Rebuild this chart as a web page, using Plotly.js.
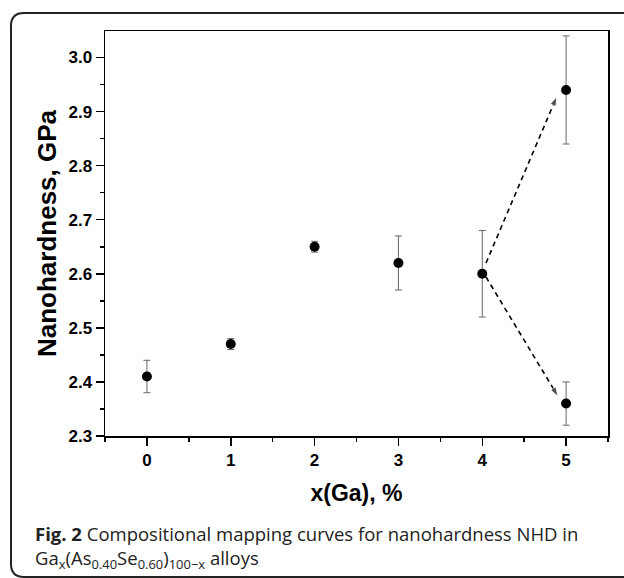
<!DOCTYPE html>
<html>
<head>
<meta charset="utf-8">
<script src="https://cdn.plot.ly/plotly-3.0.1.min.js"></script>
<style>
  html, body { margin: 0; padding: 0; background: #fff; }
  #chart { width: 624px; height: 578px; }
</style>
</head>
<body>
<div id="chart"></div>
<script>
// Data
const gaContent = [0, 1, 2, 3, 4, 5, 5];
const nanohardness = [2.41, 2.47, 2.65, 2.62, 2.60, 2.94, 2.36];
const errPlus = [0.03, 0.01, 0.01, 0.05, 0.08, 0.10, 0.04];
const errMinus = [0.03, 0.01, 0.01, 0.05, 0.08, 0.10, 0.04];

// dashed arrows: from x=4 point towards the two x=5 points
const arrowUpX = [4.045, 4.89];
const arrowUpY = [2.62, 2.928];
const arrowDownX = [4.045, 4.905];
const arrowDownY = [2.594, 2.373];

const xTickVals = [0, 1, 2, 3, 4, 5];
const xTickText = ['0', '1', '2', '3', '4', '5'];
const yTickVals = [2.3, 2.4, 2.5, 2.6, 2.7, 2.8, 2.9, 3.0];
const yTickText = ['2.3', '2.4', '2.5', '2.6', '2.7', '2.8', '2.9', '3.0'];

const W = 624, H = 578;
const M = {l: 105, r: 16, t: 31, b: 142};
const pw = W - M.l - M.r, ph = H - M.t - M.b;
const px = v => ((v - M.l) / pw).toFixed(5);
const py = v => ((H - M.b - v) / ph).toFixed(5);

// rounded frame around the whole figure (pixel positions -> paper coords)
const fL = 11, fT = 13, fB = 577, fR = 720, rad = 13;
const framePath =
  'M ' + px(fR) + ',' + py(fT) +
  ' L ' + px(fL + rad) + ',' + py(fT) +
  ' Q ' + px(fL) + ',' + py(fT) + ' ' + px(fL) + ',' + py(fT + rad) +
  ' L ' + px(fL) + ',' + py(fB - rad) +
  ' Q ' + px(fL) + ',' + py(fB) + ' ' + px(fL + rad) + ',' + py(fB) +
  ' L ' + px(fR) + ',' + py(fB);

const arrowTrace = (xs, ys) => ({
  x: xs, y: ys,
  type: 'scatter',
  mode: 'lines+markers',
  line: {color: '#000', width: 1.6, dash: '5px,4px'},
  marker: {
    symbol: ['circle', 'arrow'],
    size: [0, 10],
    color: '#000',
    angleref: 'previous'
  },
  hoverinfo: 'skip',
  showlegend: false
});

const traces = [
  arrowTrace(arrowUpX, arrowUpY),
  arrowTrace(arrowDownX, arrowDownY),
  {
    x: gaContent,
    y: nanohardness,
    type: 'scatter',
    mode: 'markers',
    marker: {color: '#000', size: 10, symbol: 'circle'},
    error_y: {
      type: 'data',
      symmetric: false,
      array: errPlus,
      arrayminus: errMinus,
      color: '#666',
      thickness: 1,
      width: 3.5
    },
    showlegend: false
  }
];

const axisFont = {family: 'Arial, "Liberation Sans", sans-serif', size: 17, color: '#000', weight: 'bold'};

const layout = {
  width: W, height: H,
  margin: M,
  paper_bgcolor: '#fff',
  plot_bgcolor: '#fff',
  showlegend: false,
  xaxis: {
    range: [-0.5, 5.5],
    tickvals: xTickVals,
    ticktext: xTickText,
    ticks: 'outside',
    ticklen: 8,
    tickwidth: 1.5,
    tickcolor: '#000',
    minor: {dtick: 0.5, tick0: 0, ticks: 'outside', ticklen: 4, tickwidth: 1.5, tickcolor: '#000', showgrid: false},
    showline: true,
    linecolor: '#000',
    linewidth: 1.5,
    mirror: true,
    showgrid: false,
    zeroline: false,
    tickfont: axisFont,
    title: {
      text: 'x(Ga), %',
      font: {family: 'Arial, "Liberation Sans", sans-serif', size: 23, color: '#000', weight: 'bold'},
      standoff: 16
    },
    automargin: false
  },
  yaxis: {
    range: [2.3, 3.049],
    tickvals: yTickVals,
    ticktext: yTickText,
    ticks: 'outside',
    ticklen: 8,
    tickwidth: 1.5,
    tickcolor: '#000',
    minor: {dtick: 0.05, tick0: 2.3, ticks: 'outside', ticklen: 4, tickwidth: 1.5, tickcolor: '#000', showgrid: false},
    showline: true,
    linecolor: '#000',
    linewidth: 1.5,
    mirror: true,
    showgrid: false,
    zeroline: false,
    tickfont: axisFont,
    title: {
      text: 'Nanohardness, GPa',
      font: {family: 'Arial, "Liberation Sans", sans-serif', size: 26, color: '#000', weight: 'bold'},
      standoff: 4
    },
    automargin: false
  },
  shapes: [
    {type: 'path', xref: 'paper', yref: 'paper', path: framePath,
     line: {color: '#222', width: 2}, layer: 'above'}
  ],
  annotations: [
    {
      xref: 'paper', yref: 'paper',
      x: Number(px(33)), y: Number(py(547)),
      xanchor: 'left', yanchor: 'middle',
      showarrow: false, align: 'left',
      text: '<b>Fig. 2</b> Compositional mapping curves for nanohardness NHD in<br>' +
            'Ga<sub>x</sub>(As<sub>0.40</sub>Se<sub>0.60</sub>)<sub>100\u2212x</sub> alloys',
      font: {family: '"Open Sans", "Noto Sans", sans-serif', size: 18.5, color: '#222'}
    }
  ]
};

Plotly.newPlot('chart', traces, layout, {displayModeBar: false, staticPlot: true});
</script>
</body>
</html>
